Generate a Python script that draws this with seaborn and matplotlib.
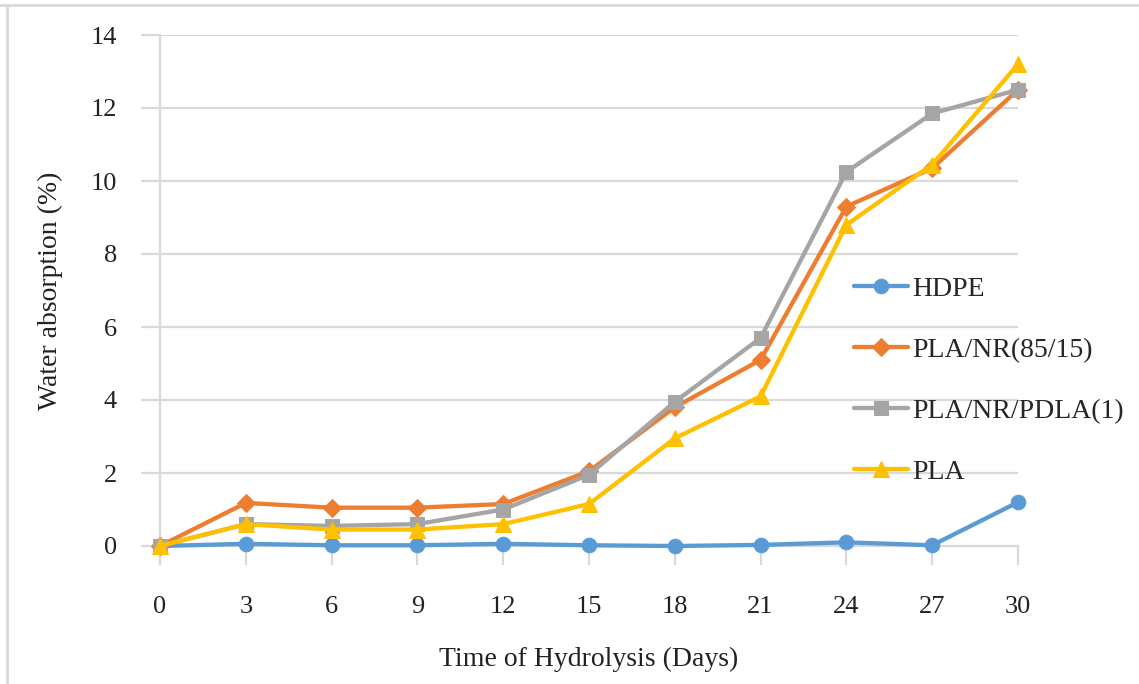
import matplotlib
matplotlib.use("Agg")
import matplotlib.pyplot as plt
from matplotlib.lines import Line2D
import seaborn as sns
import pandas as pd

days = [0, 3, 6, 9, 12, 15, 18, 21, 24, 27, 30]
hdpe = [0.0, 0.06, 0.02, 0.02, 0.06, 0.02, 0.0, 0.03, 0.10, 0.02, 1.2]
pla_nr = [0.0, 1.18, 1.05, 1.05, 1.15, 2.05, 3.8, 5.1, 9.3, 10.35, 12.5]
pla_nr_pdla = [0.0, 0.6, 0.55, 0.6, 1.0, 1.95, 3.95, 5.7, 10.25, 11.85, 12.5]
pla = [0.0, 0.6, 0.45, 0.45, 0.6, 1.15, 2.95, 4.1, 8.8, 10.45, 13.2]
series_names = ["HDPE", "PLA/NR(85/15)", "PLA/NR/PDLA(1)", "PLA"]
y_ticks = [0, 2, 4, 6, 8, 10, 12, 14]

frames = []
for name, vals in zip(series_names, [hdpe, pla_nr, pla_nr_pdla, pla]):
    frames.append(pd.DataFrame({"day": days, "absorption": vals, "sample": name}))
df = pd.concat(frames, ignore_index=True)

sns.set_theme(style="white")
plt.rcParams["font.family"] = ["Liberation Serif", "DejaVu Serif"]

palette = {"HDPE": "#5B9BD5", "PLA/NR(85/15)": "#ED7D31",
           "PLA/NR/PDLA(1)": "#A5A5A5", "PLA": "#FFC000"}
markers = {"HDPE": "o", "PLA/NR(85/15)": "D",
           "PLA/NR/PDLA(1)": "s", "PLA": "^"}
msizes = {"HDPE": 10.5, "PLA/NR(85/15)": 9.5, "PLA/NR/PDLA(1)": 10, "PLA": 12}

fig = plt.figure(figsize=(11.39, 6.84), dpi=100)
ax = fig.add_axes([160 / 1139, 1 - 546 / 684, (1018 - 160) / 1139, (546 - 35) / 684])

grid_c = "#D9D9D9"
for y in y_ticks[1:]:
    ax.axhline(y, color=grid_c, lw=1.6, zorder=0)

for name in series_names:
    sub = df[df["sample"] == name]
    sns.lineplot(data=sub, x="day", y="absorption", ax=ax, color=palette[name],
                 marker=markers[name], markersize=msizes[name],
                 markeredgecolor=palette[name], lw=3.1, label=name,
                 zorder=3, clip_on=False)

ax.set_xlim(0, 30)
ax.set_ylim(0, 14)
ax.set_xticks(days)
ax.set_yticks(y_ticks)
ax.tick_params(axis="both", labelsize=19, colors=grid_c, labelcolor="#222222",
               length=14, width=1.6, direction="out", left=True, bottom=True)
ax.tick_params(axis="y", pad=17)
ax.tick_params(axis="x", pad=22)
for side in ["top", "right"]:
    ax.spines[side].set_visible(False)
for side in ["left", "bottom"]:
    ax.spines[side].set_color(grid_c)
    ax.spines[side].set_linewidth(1.6)

ax.set_xlabel("Time of Hydrolysis (Days)", fontsize=20, color="#222222", labelpad=21)
ax.set_ylabel("Water absorption (%)", fontsize=20, color="#222222", labelpad=20)

ax.legend(loc="upper left", bbox_to_anchor=(0.796, 0.549), frameon=False,
          fontsize=20, handlelength=1.95, handletextpad=0.15,
          labelspacing=1.28, borderaxespad=0)

# thin frame along the top and left edges of the figure
fig.add_artist(Line2D([0, 1], [1 - 5 / 684] * 2, color=grid_c, lw=2))
fig.add_artist(Line2D([7 / 1139] * 2, [0, 1 - 5 / 684], color=grid_c, lw=2))

fig.savefig("out.png", dpi=100)
